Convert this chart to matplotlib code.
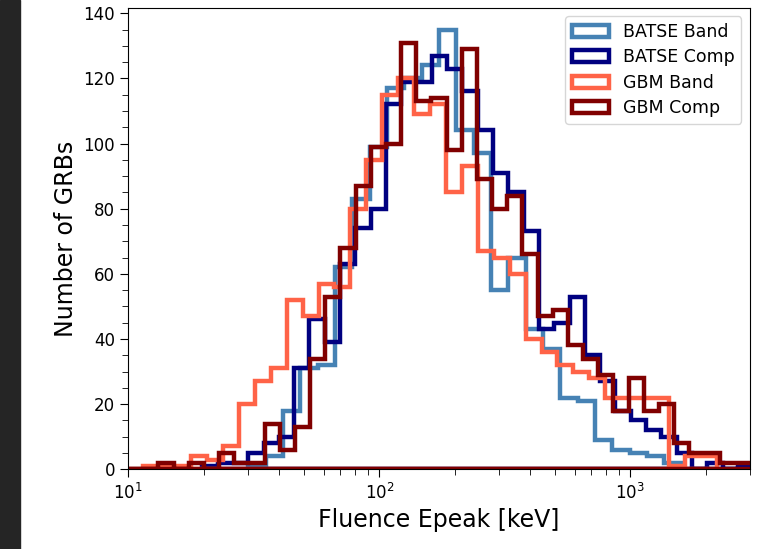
import numpy as np
import matplotlib
matplotlib.use('Agg')
import matplotlib.pyplot as plt
from matplotlib.ticker import AutoMinorLocator
from matplotlib.patches import Rectangle

# each sample: bin range in keV (log spaced bins) and counts per bin
batse_band_range = (30.07, 1604.0)
batse_band_counts = [1, 4, 18, 31, 32, 62, 83, 99, 117, 120, 124, 135, 104,
                     97, 55, 65, 43, 37, 22, 21, 9, 6, 5, 4, 2]

batse_comp_range = (19.73, 3087.0)
batse_comp_counts = [1, 2, 2, 5, 8, 10, 31, 46, 39, 63, 74, 80, 112, 119, 119,
                     127, 123, 116, 104, 91, 85, 73, 43, 45, 53, 35, 27, 18,
                     15, 12, 10, 5, 0, 2, 0, 1]

gbm_band_range = (11.476, 2211.0)
gbm_band_counts = [1, 1, 1, 4, 3, 7, 20, 27, 31, 52, 47, 57, 56, 80, 95, 115,
                   120, 109, 112, 85, 93, 67, 65, 60, 40, 36, 32, 30, 28, 22,
                   22, 22, 22, 1, 4, 4]

gbm_comp_range = (8.675, 3960.0)
gbm_comp_counts = [0, 0, 0, 2, 0, 2, 0, 5, 2, 2, 14, 6, 13, 34, 53, 68, 87,
                   99, 100, 131, 113, 114, 98, 129, 89, 80, 84, 66, 47, 49,
                   38, 34, 29, 18, 28, 18, 20, 8, 5, 5, 2, 2, 2, 1]

labels = ['BATSE Band', 'BATSE Comp', 'GBM Band', 'GBM Comp']
colors = ['steelblue', 'navy', 'tomato', 'maroon']
ranges = [batse_band_range, batse_comp_range, gbm_band_range, gbm_comp_range]
counts = [batse_band_counts, batse_comp_counts, gbm_band_counts, gbm_comp_counts]


def log_bins(rng, n):
    return np.logspace(np.log10(rng[0]), np.log10(rng[1]), n + 1)


fig = plt.figure(figsize=(7.82, 5.49), dpi=100)
ax = fig.add_axes([0.1641, 0.1452, 0.7950, 0.8411])

for rng, c, col, lab in zip(ranges, counts, colors, labels):
    bins = log_bins(rng, len(c))
    mids = np.sqrt(bins[:-1] * bins[1:])
    n, b, patches = ax.hist(mids, bins=bins, weights=c, histtype='step',
                            lw=3.2, color=col, label=lab)
    patches[0].set_closed(True)

ax.set_xscale('log')
ax.set_xlim(10, 3000)
ax.yaxis.set_minor_locator(AutoMinorLocator())
ax.tick_params(labelsize=12)
ax.tick_params(which='major', length=6)
ax.tick_params(which='minor', length=4)
ax.set_xlabel('Fluence Epeak [keV]', fontsize=17)
ax.set_ylabel('Number of GRBs', fontsize=17)
ax.legend(loc='upper right', fontsize=12.5, labelspacing=0.42,
          handlelength=2.1)

# dark strip at the left edge of the screenshot
fig.add_artist(Rectangle((0, 0), 20 / 782, 1, transform=fig.transFigure,
                         color='#252525', zorder=10))

fig.savefig('out.png', dpi=100)
